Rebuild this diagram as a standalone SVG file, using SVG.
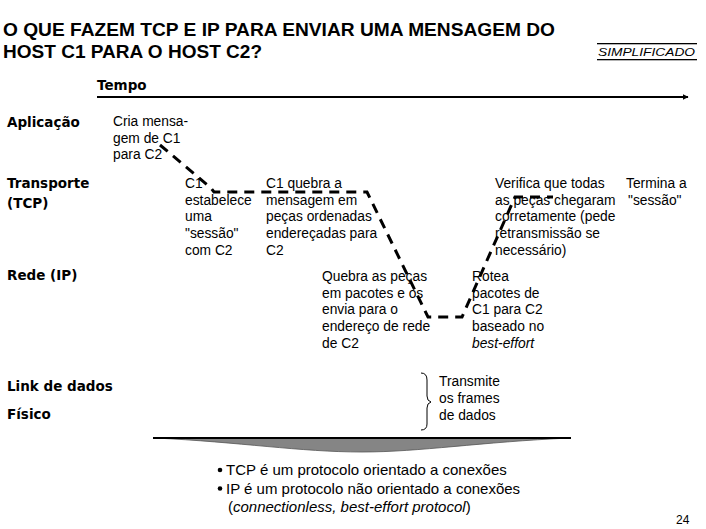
<svg xmlns="http://www.w3.org/2000/svg" width="706" height="529" viewBox="0 0 706 529">
<defs>
<style>
.title{font-family:"Liberation Sans",Arial,sans-serif;font-weight:bold;font-size:18.5px;fill:#000}
.layer{font-family:"DejaVu Sans",Verdana,sans-serif;font-weight:bold;font-size:13.5px;fill:#000}
.t{font-family:"Liberation Sans",Arial,sans-serif;font-size:13.8px;fill:#000}
.b{font-family:"Liberation Sans",Arial,sans-serif;font-size:15px;fill:#000}
.path{fill:none;stroke:#000;stroke-width:3;stroke-dasharray:10 7}
</style>
<marker id="arr" viewBox="0 0 10 10" refX="9" refY="5" markerWidth="6" markerHeight="6" orient="auto" markerUnits="userSpaceOnUse">
<path d="M0,0 L10,5 L0,10 Z" fill="#000"/>
</marker>
</defs>
<rect width="706" height="529" fill="#fff"/>

<g id="title">
<text class="title" x="3" y="36" textLength="552" lengthAdjust="spacingAndGlyphs">O QUE FAZEM TCP E IP PARA ENVIAR UMA MENSAGEM DO</text>
<text class="title" x="3" y="58" textLength="259" lengthAdjust="spacingAndGlyphs">HOST C1 PARA O HOST C2?</text>
</g>
<g id="simplificado">
<rect x="597" y="43" width="100" height="1.3" fill="#000"/>
<text x="598" y="56" font-family="Liberation Sans, Arial, sans-serif" font-style="italic" font-size="11.5" textLength="97" lengthAdjust="spacingAndGlyphs">SIMPLIFICADO</text>
<rect x="597" y="59" width="100" height="1.3" fill="#000"/>
</g>

<g id="tempo">
<text class="layer" x="97" y="90" font-size="14.5">Tempo</text>
</g>

<g id="layers">
<text class="layer" x="7" y="127">Aplicação</text>
<text class="layer" x="7" y="188">Transporte</text>
<text class="layer" x="7" y="208">(TCP)</text>
<text class="layer" x="7" y="280">Rede (IP)</text>
<text class="layer" x="7" y="391">Link de dados</text>
<text class="layer" x="7" y="419">Físico</text>
</g>

<g id="connectors">
<line x1="97" y1="97" x2="688" y2="97" stroke="#000" stroke-width="2" marker-end="url(#arr)"/>
<path class="path" d="M160,145 L211,188 L214,192 H367 L428,317 H462 L515,197 H553"/>
</g>

<g id="cria">
<text class="t" x="113" y="126">Cria mensa-</text>
<text class="t" x="113" y="142.5">gem de C1</text>
<text class="t" x="113" y="159">para C2</text>
</g>

<g id="estabelece">
<text class="t" x="185" y="188">C1</text>
<text class="t" x="185" y="204.7">estabelece</text>
<text class="t" x="185" y="221.4">uma</text>
<text class="t" x="185" y="238.1">"sessão"</text>
<text class="t" x="185" y="254.8">com C2</text>
</g>

<g id="quebra">
<text class="t" x="266" y="188">C1 quebra a</text>
<text class="t" x="266" y="204.7">mensagem em</text>
<text class="t" x="266" y="221.4">peças ordenadas</text>
<text class="t" x="266" y="238.1">endereçadas para</text>
<text class="t" x="266" y="254.8">C2</text>
</g>

<g id="pacotes">
<text class="t" x="322" y="281">Quebra as peças</text>
<text class="t" x="322" y="297.7">em pacotes e os</text>
<text class="t" x="322" y="314.4">envia para o</text>
<text class="t" x="322" y="331.1">endereço de rede</text>
<text class="t" x="322" y="347.8">de C2</text>
</g>

<g id="rotea">
<text class="t" x="472" y="281">Rotea</text>
<text class="t" x="472" y="297.7">pacotes de</text>
<text class="t" x="472" y="314.4">C1 para C2</text>
<text class="t" x="472" y="331.1">baseado no</text>
<text class="t" x="472" y="347.8" font-style="italic">best-effort</text>
</g>

<g id="verifica">
<text class="t" x="495" y="188">Verifica que todas</text>
<text class="t" x="495" y="204.7">as peças chegaram</text>
<text class="t" x="495" y="221.4">corretamente (pede</text>
<text class="t" x="495" y="238.1">retransmissão se</text>
<text class="t" x="495" y="254.8">necessário)</text>
</g>

<g id="termina">
<text class="t" x="626" y="188">Termina a</text>
<text class="t" x="628" y="204.7">"sessão"</text>
</g>

<g id="transmite">
<path d="M421,373 Q427,373 427,380 V396 Q427,401 431,402 Q427,403 427,408 V424 Q427,430 421,430" fill="none" stroke="#000" stroke-width="1"/>
<text class="t" x="439" y="386">Transmite</text>
<text class="t" x="439" y="403">os frames</text>
<text class="t" x="439" y="420">de dados</text>
</g>

<g id="lens">
<path d="M155,438 H570 C480,442 420,452 362,452 C300,452 240,442 155,438 Z" fill="#858585" stroke="#555" stroke-width="0.8"/>
<line x1="153" y1="438" x2="571" y2="438" stroke="#000" stroke-width="2"/>
</g>

<g id="notes">
<circle cx="220" cy="470" r="2.3" fill="#000"/>
<text class="b" x="226" y="475">TCP é um protocolo orientado a conexões</text>
<circle cx="220" cy="488.5" r="2.3" fill="#000"/>
<text class="b" x="226" y="493.5">IP é um protocolo não orientado a conexões</text>
<text class="b" x="228" y="512">(<tspan font-style="italic">connectionless, best-effort protocol</tspan>)</text>
</g>

<text x="676" y="524" font-family="Liberation Sans, Arial, sans-serif" font-size="12">24</text>
</svg>
